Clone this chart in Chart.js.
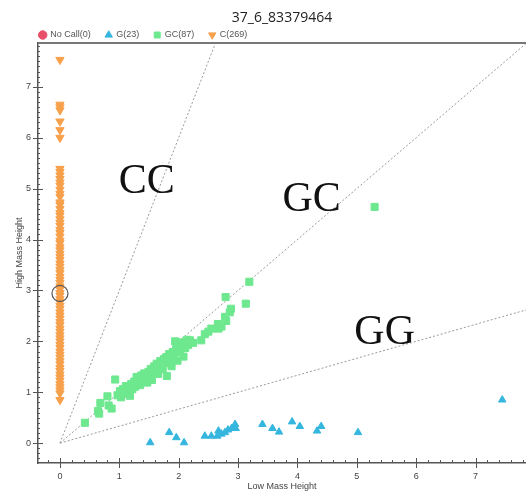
<!DOCTYPE html>
<html>
<head>
<meta charset="utf-8">
<script src="https://cdn.jsdelivr.net/npm/chart.js@4.4.1/dist/chart.umd.min.js"></script>
<style>
  html, body { margin: 0; padding: 0; background: #fff; }
  #wrap { width: 526px; height: 493px; }
</style>
</head>
<body>
<div id="wrap"><canvas id="myScatter"></canvas></div>
<script>
"use strict";

// chart title + legend names
const chartTitle = "37_6_83379464";
const seriesNames = ["No Call(0)", "G(23)", "GC(87)", "C(269)"];

// tick labels on both axes
const xTicks = [0, 1, 2, 3, 4, 5, 6, 7];
const yTicks = [0, 1, 2, 3, 4, 5, 6, 7];

// No Call - empty
const noCallLow = [];
const noCallHigh = [];

// G calls (blue)
const gLow = [1.52, 1.84, 1.96, 2.09, 2.44, 2.55, 2.65, 2.67, 2.72, 2.78, 2.83, 2.89, 2.95, 2.96, 3.41, 3.58, 3.69, 3.91, 4.04, 4.33, 4.40, 5.02, 7.45];
const gHigh = [0.01, 0.21, 0.11, 0.01, 0.14, 0.14, 0.14, 0.24, 0.18, 0.21, 0.26, 0.29, 0.37, 0.29, 0.37, 0.29, 0.22, 0.42, 0.33, 0.24, 0.33, 0.21, 0.85];

// GC calls (green)
const gcLow = [0.42, 0.64, 0.66, 0.68, 0.80, 0.82, 0.87, 0.93, 0.97, 1.01, 1.03, 1.06, 1.08, 1.11, 1.12, 1.13, 1.16, 1.18, 1.20, 1.22, 1.25, 1.27, 1.28,
    1.29, 1.31, 1.33, 1.35, 1.37, 1.39, 1.40, 1.42, 1.44, 1.46, 1.47, 1.49, 1.51, 1.53, 1.55, 1.57, 1.57, 1.59, 1.61, 1.63, 1.65, 1.67,
    1.69, 1.71, 1.73, 1.74, 1.75, 1.77, 1.79, 1.80, 1.82, 1.84, 1.86, 1.88, 1.90, 1.91, 1.92, 1.94, 1.96, 1.98, 2.00, 2.02, 2.05, 2.08,
    2.11, 2.14, 2.16, 2.19, 2.24, 2.38, 2.44, 2.50, 2.55, 2.66, 2.67, 2.72, 2.78, 2.80, 2.86, 2.88, 2.79, 3.13, 3.19, 5.30];
const gcHigh = [0.40, 0.63, 0.58, 0.79, 0.92, 0.74, 0.68, 1.25, 0.94, 1.02, 0.90, 1.06, 0.97, 1.12, 1.05, 1.02, 1.09, 0.93, 1.16, 1.06, 1.21, 1.11, 1.15,
    1.30, 1.18, 1.26, 1.14, 1.33, 1.31, 1.23, 1.37, 1.28, 1.35, 1.19, 1.40, 1.32, 1.46, 1.24, 1.37, 1.43, 1.51, 1.43, 1.56, 1.36, 1.48,
    1.61, 1.53, 1.45, 1.58, 1.65, 1.57, 1.69, 1.32, 1.61, 1.75, 1.66, 1.51, 1.79, 1.66, 1.71, 2.00, 1.86, 1.62, 1.93, 1.79, 1.98, 1.70,
    1.87, 2.03, 1.93, 2.02, 1.97, 2.02, 2.14, 2.19, 2.25, 2.34, 2.25, 2.29, 2.48, 2.40, 2.57, 2.64, 2.87, 2.74, 3.17, 4.64];

// C calls (orange), all sit on low mass = 0
const cHigh = [7.53, 6.65, 6.60, 6.54, 6.32, 6.15, 6.00, 5.39, 5.33, 5.26, 5.19, 5.12, 5.06, 4.98, 4.90, 4.84, 4.73, 4.68, 4.60, 4.52,
    4.47, 4.40, 4.33, 4.27, 4.19, 4.13, 4.06, 3.98, 3.93, 3.85, 3.79, 3.72, 3.66, 3.60, 3.53, 3.47, 3.40, 3.34, 3.27, 3.21, 3.15,
    3.08, 3.02, 2.95, 2.90, 2.83, 2.77, 2.70, 2.64, 2.57, 2.51, 2.45, 2.38, 2.32, 2.25, 2.19, 2.12, 2.06, 2.00, 1.93, 1.87, 1.80,
    1.74, 1.68, 1.61, 1.55, 1.48, 1.42, 1.35, 1.29, 1.23, 1.16, 1.10, 1.04, 0.98, 0.85];

// selected sample (ring)
const ringLow = [0];
const ringHigh = [2.94];

// cluster boundary lines from origin (end points, clipped by chart area)
const ccLine = [[0, 0], [3, 9]];
const gcLine = [[0, 0], [9, 9]];
const ggLine = [[0, 0], [9, 3]];

// cluster names and where they sit (data units)
const zoneNames = ["CC", "GC", "GG"];
const zoneLow = [1.46, 4.24, 5.47];
const zoneHigh = [5.13, 4.77, 2.16];


function toPoints(xs, ys) {
    return xs.map((x, i) => ({ x: x, y: ys[i] }));
}

function linePoints(arr) {
    return arr.map(p => ({ x: p[0], y: p[1] }));
}

const axisFont = { family: "Liberation Sans", size: 9 };

// draws the frame top, tick marks and the big zone names
const plotDecor = {
    id: 'plotDecor',
    afterLayout(chart) {
        chart.legend.left -= 13.3;
    },
    afterDatasetsDraw(chart) {
        const ctx = chart.ctx;
        const area = chart.chartArea;
        const xs = chart.scales.x;
        const ys = chart.scales.y;

        ctx.save();
        // top frame line
        ctx.strokeStyle = "#777";
        ctx.lineWidth = 2;
        ctx.beginPath();
        ctx.moveTo(area.left, area.top);
        ctx.lineTo(area.right, area.top);
        ctx.stroke();

        ctx.strokeStyle = "#555";
        ctx.lineWidth = 1;
        // x ticks
        for (let v = -0.2; v <= xs.max; v += 0.2) {
            const px = Math.round(xs.getPixelForValue(v)) + 0.5;
            const major = Math.abs(v - Math.round(v)) < 0.01;
            ctx.beginPath();
            ctx.moveTo(px, area.bottom - (major ? 5 : 3));
            ctx.lineTo(px, area.bottom + (major ? 5 : 0));
            ctx.stroke();
        }
        // y ticks
        for (let v = -0.3; v <= ys.max; v += 0.1) {
            const py = Math.round(ys.getPixelForValue(v)) + 0.5;
            const major = Math.abs(v - Math.round(v)) < 0.01;
            ctx.beginPath();
            ctx.moveTo(area.left - (major ? 5 : 0), py);
            ctx.lineTo(area.left + (major ? 5 : 2), py);
            ctx.stroke();
        }

        // zone names
        ctx.fillStyle = "#111";
        ctx.font = "42px 'Liberation Serif'";
        ctx.textAlign = "center";
        ctx.textBaseline = "middle";
        zoneNames.forEach((name, i) => {
            ctx.fillText(name, xs.getPixelForValue(zoneLow[i]), ys.getPixelForValue(zoneHigh[i]));
        });
        ctx.restore();
    }
};

const lineStyle = {
    type: 'line',
    borderColor: '#999',
    borderWidth: 1,
    borderDash: [2, 2],
    pointRadius: 0,
    fill: false,
    order: 5
};

const ctx = document.getElementById('myScatter');
new Chart(ctx, {
    type: 'scatter',
    data: {
        datasets: [
            {
                label: seriesNames[0],
                data: toPoints(noCallLow, noCallHigh),
                pointStyle: 'circle',
                backgroundColor: '#e8506a',
                borderColor: '#e8506a',
                pointRadius: 4
            },
            {
                label: seriesNames[1],
                data: toPoints(gLow, gHigh),
                pointStyle: 'triangle',
                backgroundColor: '#35b6de',
                borderColor: '#35b6de',
                borderWidth: 1,
                pointRadius: 4.3
            },
            {
                label: seriesNames[2],
                data: toPoints(gcLow, gcHigh),
                pointStyle: 'rect',
                backgroundColor: '#6ee88f',
                borderColor: '#6ee88f',
                borderWidth: 1,
                pointRadius: 5
            },
            {
                label: seriesNames[3],
                data: cHigh.map(y => ({ x: 0, y: y })),
                pointStyle: 'triangle',
                rotation: 180,
                backgroundColor: '#f7a04c',
                borderColor: '#f7a04c',
                borderWidth: 1,
                pointRadius: 4.8
            },
            Object.assign({ label: 'cc', data: linePoints(ccLine) }, lineStyle),
            Object.assign({ label: 'gc', data: linePoints(gcLine) }, lineStyle),
            Object.assign({ label: 'gg', data: linePoints(ggLine) }, lineStyle),
            {
                label: 'ring',
                data: toPoints(ringLow, ringHigh),
                pointStyle: 'circle',
                backgroundColor: 'rgba(0,0,0,0)',
                borderColor: '#555',
                borderWidth: 1.2,
                pointRadius: 8,
                order: -1
            }
        ]
    },
    options: {
        responsive: true,
        maintainAspectRatio: false,
        animation: false,
        layout: { padding: 0, autoPadding: false },
        plugins: {
            tooltip: { enabled: false },
            title: {
                display: true,
                text: chartTitle,
                fullSize: false,
                color: '#222',
                font: { family: "Open Sans", size: 14, weight: 'normal' },
                padding: { top: 10, bottom: -11.3 }
            },
            legend: {
                display: true,
                position: 'top',
                align: 'start',
                fullSize: false,
                maxHeight: 27.5,
                labels: {
                    usePointStyle: true,
                    boxWidth: 6,
                    boxHeight: 6,
                    padding: 15,
                    color: '#555',
                    font: axisFont,
                    filter: item => item.datasetIndex < 4
                }
            }
        },
        scales: {
            x: {
                type: 'linear',
                min: -0.37,
                max: 7.85,
                afterBuildTicks: s => { s.ticks = xTicks.map(v => ({ value: v })); },
                afterFit: s => { s.height = 30; },
                grid: { display: false, drawTicks: false },
                border: { display: true, color: '#555', width: 1.5 },
                ticks: { color: '#444', font: axisFont, padding: 8, maxRotation: 0, autoSkip: false },
                title: { display: true, text: 'Low Mass Height', color: '#444', font: axisFont, padding: { top: 0, bottom: 1 } }
            },
            y: {
                type: 'linear',
                min: -0.39,
                max: 7.86,
                afterBuildTicks: s => { s.ticks = yTicks.map(v => ({ value: v })); },
                afterFit: s => { s.width = 38; },
                grid: { display: false, drawTicks: false },
                border: { display: true, color: '#555', width: 1.5 },
                ticks: { color: '#444', font: axisFont, padding: 7, autoSkip: false },
                title: { display: true, text: 'High Mass Height', color: '#444', font: axisFont, padding: { top: 14.5, bottom: 0 } }
            }
        }
    },
    plugins: [plotDecor]
});
</script>
</body>
</html>
